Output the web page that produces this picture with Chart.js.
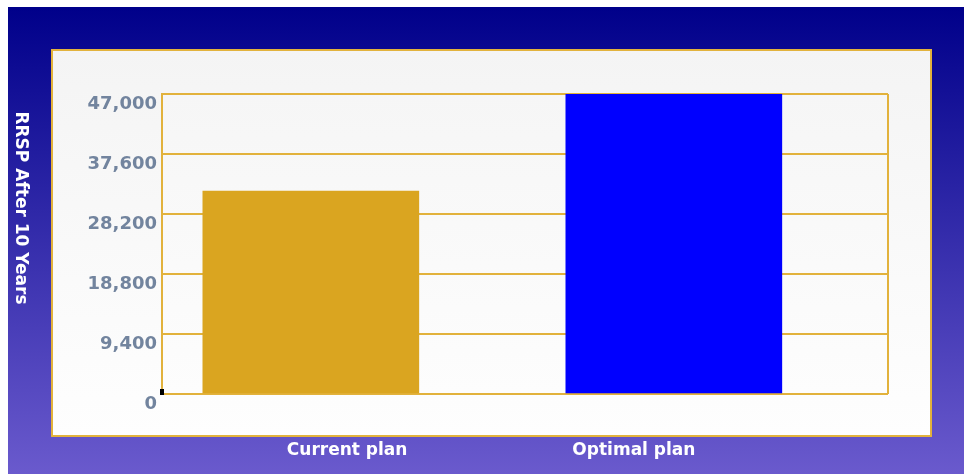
<!DOCTYPE html>
<html>
<head>
<meta charset="utf-8">
<script src="https://cdn.jsdelivr.net/npm/chart.js@4"></script>
<style>
  html, body { margin: 0; padding: 0; background: #fff; }
  #wrap { width: 964px; height: 474px; position: relative; }
</style>
</head>
<body>
<div id="wrap"><canvas id="chart"></canvas></div>
<script>
// chart data
const categories = ['Current plan', 'Optimal plan'];
const rrspValues = [31800, 47000];
const yTicks = [0, 9400, 18800, 28200, 37600, 47000];
const axisTitle = 'RRSP After 10 Years';
const barColors = ['#DAA520', '#0000FF'];

// bars sit a bit left of each category centre, labels are placed on their own
const barShift = -0.09;
const labelSpots = [0.51, 1.30];

const gold = '#e2b23c';

// backgrounds, plot frame and the rotated axis title
const decor = {
  id: 'decor',
  beforeDraw(chart) {
    const { ctx, width, height, chartArea: a } = chart;
    ctx.save();
    ctx.fillStyle = '#fff';
    ctx.fillRect(0, 0, width, height);

    const outer = ctx.createLinearGradient(0, 7, 0, height);
    outer.addColorStop(0, '#00008a');
    outer.addColorStop(1, '#6a5acd');
    ctx.fillStyle = outer;
    ctx.fillRect(8, 7, width - 8, height - 7);

    const panel = ctx.createLinearGradient(0, 49, 0, 437);
    panel.addColorStop(0, '#f4f4f4');
    panel.addColorStop(1, '#fefefe');
    ctx.fillStyle = panel;
    ctx.fillRect(51, 49, 881, 388);
    ctx.strokeStyle = gold;
    ctx.lineWidth = 2;
    ctx.strokeRect(52, 50, 879, 386);

    const inner = ctx.createLinearGradient(0, a.top, 0, a.bottom);
    inner.addColorStop(0, '#f6f6f6');
    inner.addColorStop(1, '#fdfdfd');
    ctx.fillStyle = inner;
    ctx.fillRect(a.left, a.top, a.right - a.left, a.bottom - a.top);

    ctx.translate(20, 208);
    ctx.rotate(Math.PI / 2);
    ctx.fillStyle = '#ffffff';
    ctx.font = 'bold 17px "DejaVu Sans"';
    ctx.textAlign = 'center';
    ctx.textBaseline = 'middle';
    ctx.fillText(axisTitle, 0, 0);
    ctx.restore();
  },
  beforeDatasetsDraw(chart) {
    const { ctx, chartArea: a } = chart;
    ctx.save();
    ctx.strokeStyle = gold;
    ctx.lineWidth = 2;
    ctx.beginPath();
    ctx.moveTo(a.right, a.top);
    ctx.lineTo(a.right, a.bottom);
    ctx.stroke();
    ctx.restore();
  },
  afterDraw(chart) {
    const { ctx, chartArea: a } = chart;
    ctx.save();
    ctx.fillStyle = '#000';
    ctx.fillRect(a.left - 2, a.bottom - 5, 4, 6);
    ctx.restore();
  }
};

new Chart(document.getElementById('chart'), {
  type: 'bar',
  data: {
    datasets: [{
      label: axisTitle,
      data: categories.map((c, i) => ({ x: i + 0.5 + barShift, y: rrspValues[i] })),
      backgroundColor: barColors,
      borderWidth: 0,
      barThickness: 216
    }]
  },
  options: {
    responsive: true,
    maintainAspectRatio: false,
    animation: false,
    layout: { padding: { left: 0, top: 94, right: 76, bottom: 0 } },
    plugins: {
      legend: { display: false },
      tooltip: { enabled: false }
    },
    scales: {
      x: {
        type: 'linear',
        min: 0,
        max: 2,
        offset: false,
        grid: { display: false, drawTicks: false, offset: false },
        border: { display: false },
        afterBuildTicks: (s) => { s.ticks = labelSpots.map((v) => ({ value: v })); },
        afterFit: (s) => { s.height = 80; },
        ticks: {
          padding: 46,
          maxRotation: 0,
          autoSkip: false,
          color: '#ffffff',
          font: { family: '"DejaVu Sans"', size: 17, weight: 'bold' },
          callback: (v, i) => categories[i]
        }
      },
      y: {
        min: 0,
        max: 47000,
        afterBuildTicks: (s) => { s.ticks = yTicks.map((v) => ({ value: v })); },
        afterFit: (s) => { s.width = 162; },
        grid: { color: gold, lineWidth: 2, drawTicks: false },
        border: { display: true, color: gold, width: 2 },
        ticks: {
          padding: 5,
          labelOffset: 10,
          color: '#72849e',
          font: { family: '"DejaVu Sans"', size: 18, weight: 'bold' },
          callback: (v) => v.toLocaleString('en-US')
        }
      }
    }
  },
  plugins: [decor]
});
</script>
</body>
</html>
